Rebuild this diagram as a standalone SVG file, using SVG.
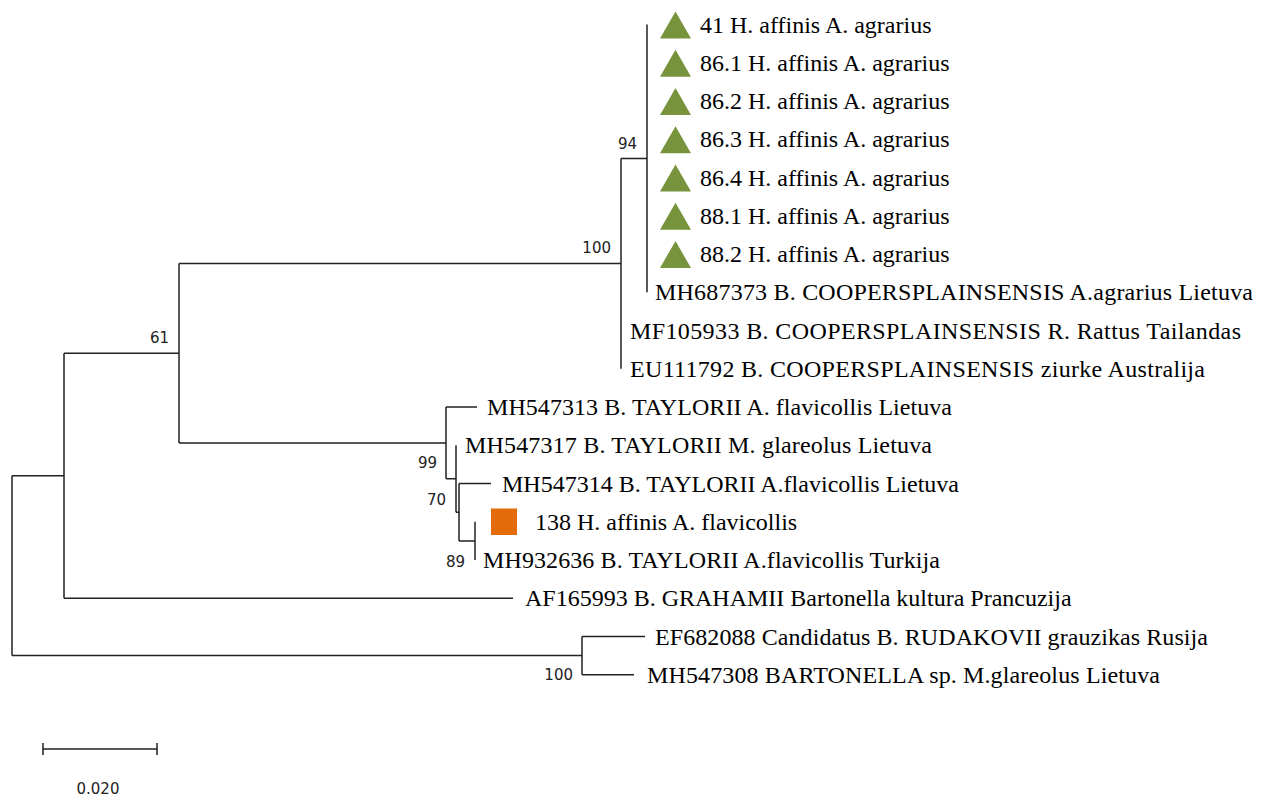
<svg xmlns="http://www.w3.org/2000/svg" width="1264" height="798" viewBox="0 0 1264 798">
<style>
.leaf{font-family:"Liberation Serif","Times New Roman",serif;font-size:24px;fill:#000}
.bs{font-family:"DejaVu Sans",Verdana,sans-serif;font-size:15px;fill:#222;text-anchor:end}
.tri{fill:#77933C}
.sq{fill:#E36C09}
#connectors path,#scale path{fill:none;stroke:#222;stroke-width:1.5}
</style>
<rect width="1264" height="798" fill="#fff"/>
<g id="connectors">
<path d="M12,475.7 V655.6 M12,475.7 H64 M12,655.6 H582"/>
<path d="M64,353.2 V598.25 M64,353.2 H179 M64,598.25 H513"/>
<path d="M582,636.5 V674.75 M582,636.5 H645 M582,674.75 H634"/>
<path d="M179,263.6 V442.9 M179,263.6 H621 M179,442.9 H446"/>
<path d="M621,158.4 V368.75 M621,158.4 H647"/>
<path d="M647,24.5 V292.25"/>
<path d="M446,407 V478.7 M446,407 H477 M446,478.7 H456"/>
<path d="M456,445.25 V512.2 M456,512.2 H459"/>
<path d="M459,483.5 V540.9 M459,483.5 H491 M459,540.9 H475"/>
<path d="M475,521.75 V560"/>
</g>
<g id="n94"><text class="bs" x="637" y="149">94</text></g>
<g id="n100a"><text class="bs" x="611" y="253">100</text></g>
<g id="n61"><text class="bs" x="169" y="343">61</text></g>
<g id="n99"><text class="bs" x="437" y="468">99</text></g>
<g id="n70"><text class="bs" x="446" y="505">70</text></g>
<g id="n89"><text class="bs" x="465" y="567">89</text></g>
<g id="n100b"><text class="bs" x="573" y="680">100</text></g>
<g id="leaf41"><polygon class="tri" points="675.5,11.5 691,38.5 660,38.5"/><text class="leaf" x="700" y="32.5">41 H. affinis A. agrarius</text></g>
<g id="leaf86_1"><polygon class="tri" points="675.5,49.75 691,76.75 660,76.75"/><text class="leaf" x="700" y="70.75">86.1 H. affinis A. agrarius</text></g>
<g id="leaf86_2"><polygon class="tri" points="675.5,88 691,115 660,115"/><text class="leaf" x="700" y="109">86.2 H. affinis A. agrarius</text></g>
<g id="leaf86_3"><polygon class="tri" points="675.5,126.25 691,153.25 660,153.25"/><text class="leaf" x="700" y="147.25">86.3 H. affinis A. agrarius</text></g>
<g id="leaf86_4"><polygon class="tri" points="675.5,164.5 691,191.5 660,191.5"/><text class="leaf" x="700" y="185.5">86.4 H. affinis A. agrarius</text></g>
<g id="leaf88_1"><polygon class="tri" points="675.5,202.75 691,229.75 660,229.75"/><text class="leaf" x="700" y="223.75">88.1 H. affinis A. agrarius</text></g>
<g id="leaf88_2"><polygon class="tri" points="675.5,241 691,268 660,268"/><text class="leaf" x="700" y="262">88.2 H. affinis A. agrarius</text></g>
<g id="leafMH687373"><text class="leaf" x="655" y="300.25" textLength="598" lengthAdjust="spacing">MH687373 B. COOPERSPLAINSENSIS A.agrarius Lietuva</text></g>
<g id="leafMF105933"><text class="leaf" x="630" y="338.5" textLength="611" lengthAdjust="spacing">MF105933 B. COOPERSPLAINSENSIS R. Rattus Tailandas</text></g>
<g id="leafEU111792"><text class="leaf" x="630" y="376.75" textLength="575" lengthAdjust="spacing">EU111792 B. COOPERSPLAINSENSIS ziurke Australija</text></g>
<g id="leafMH547313"><text class="leaf" x="487" y="415" textLength="465" lengthAdjust="spacing">MH547313 B. TAYLORII A. flavicollis Lietuva</text></g>
<g id="leafMH547317"><text class="leaf" x="465" y="453.25" textLength="467" lengthAdjust="spacing">MH547317 B. TAYLORII M. glareolus Lietuva</text></g>
<g id="leafMH547314"><text class="leaf" x="502" y="491.5" textLength="457" lengthAdjust="spacing">MH547314 B. TAYLORII A.flavicollis Lietuva</text></g>
<g id="leaf138"><rect class="sq" x="491" y="508.5" width="26" height="26.5"/><text class="leaf" x="535" y="529.75">138 H. affinis A. flavicollis</text></g>
<g id="leafMH932636"><text class="leaf" x="483" y="568" textLength="457" lengthAdjust="spacing">MH932636 B. TAYLORII A.flavicollis Turkija</text></g>
<g id="leafAF165993"><text class="leaf" x="525" y="606.25">AF165993 B. GRAHAMII Bartonella kultura Prancuzija</text></g>
<g id="leafEF682088"><text class="leaf" x="655" y="644.5" textLength="553" lengthAdjust="spacing">EF682088 Candidatus B. RUDAKOVII grauzikas Rusija</text></g>
<g id="leafMH547308"><text class="leaf" x="647" y="682.75" textLength="513" lengthAdjust="spacing">MH547308 BARTONELLA sp. M.glareolus Lietuva</text></g>
<g id="scale">
<path d="M43,749 H157 M43,743 V755 M157,743 V755"/>
<text class="bs" x="98" y="794" style="text-anchor:middle">0.020</text>
</g>
</svg>
